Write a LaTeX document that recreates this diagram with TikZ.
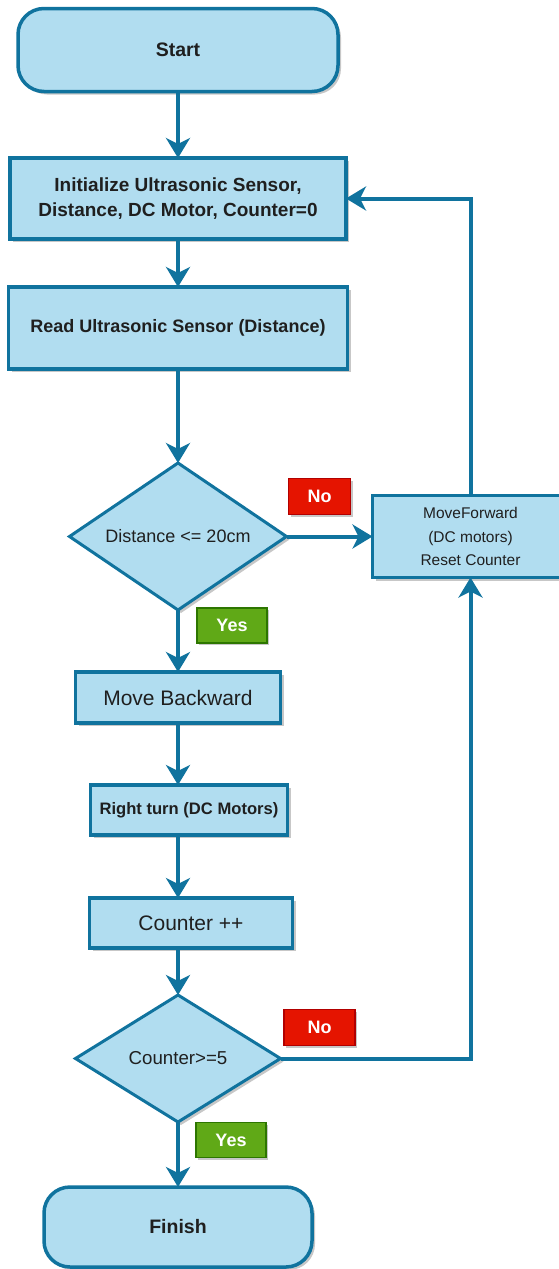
\documentclass[tikz,border=0pt]{standalone}
\usepackage{fontspec}
\setmainfont{Liberation Sans}
\usepackage{xcolor}
\definecolor{flowfill}{HTML}{B1DDF0}
\definecolor{flowline}{HTML}{10739E}
\definecolor{flowtext}{HTML}{1F1F1F}
\definecolor{nored}{HTML}{E51400}
\definecolor{noredline}{HTML}{B20000}
\definecolor{yesgreen}{HTML}{60A917}
\definecolor{yesgreenline}{HTML}{2D7600}
\usepackage{tikz}
\usetikzlibrary{
  arrows.meta,
  positioning,
  shapes.geometric,
  shadows
}
\tikzset{
  procbox/.style={draw=flowline, fill=flowfill, line width=3.5pt,
    align=center, text=flowtext, inner sep=0pt, outer sep=0pt,
    drop shadow={shadow xshift=3pt, shadow yshift=-3pt,
      fill=black, opacity=0.22}},
  termbox/.style={procbox, rounded corners=26pt},
  decbox/.style={procbox, diamond, line width=3pt},
  nolbl/.style={draw=noredline, fill=nored, text=white, line width=1.5pt,
    minimum width=62pt, minimum height=36pt, inner sep=0pt,
    font=\fontsize{18}{20}\selectfont\bfseries,
    drop shadow={shadow xshift=2pt, shadow yshift=-2pt,
      fill=black, opacity=0.22}},
  yeslbl/.style={nolbl, draw=yesgreenline, fill=yesgreen,
    minimum width=70pt, minimum height=35pt},
  arr/.style={-{Stealth[length=20pt, width=24pt, inset=6pt]},
    line width=4pt, draw=flowline},
}

\begin{document}
\begin{tikzpicture}[
  node distance=60pt
]
  \useasboundingbox (0,0) rectangle (558pt,-1269pt);

  % Start
  \node[termbox, minimum width=320pt, minimum height=83pt,
        font=\fontsize{19.5}{23}\selectfont\bfseries]
    (start) at (178pt,-50pt) {Start};
  % Init
  \node[procbox, minimum width=336pt, minimum height=81pt,
        font=\fontsize{19}{25}\selectfont\bfseries, below=66.5pt of start]
    (init) {Initialize Ultrasonic Sensor,\\Distance, DC Motor, Counter=0};
  % Read sensor
  \node[procbox, minimum width=339pt, minimum height=82pt,
        font=\fontsize{18}{22}\selectfont\bfseries, below=48pt of init]
    (read) {Read Ultrasonic Sensor (Distance)};
  % Distance check
  \node[decbox, shape aspect=1.48, minimum width=217pt, minimum height=147pt,
        font=\fontsize{18}{22}\selectfont, below=94pt of read]
    (dist) {Distance <= 20cm};
  % Move forward
  \node[procbox, minimum width=196pt, minimum height=82pt,
        font=\fontsize{15.5}{23.5}\selectfont, right=86pt of dist]
    (fwd) {MoveForward\\(DC motors)\\Reset Counter};
  % Move backward
  \node[procbox, minimum width=205pt, minimum height=51pt,
        font=\fontsize{21}{24}\selectfont, below=62pt of dist]
    (back) {Move Backward};
  % Right turn
  \node[procbox, minimum width=197pt, minimum height=50pt,
        font=\fontsize{16.6}{20}\selectfont\bfseries,
        below=62pt of back, xshift=11pt]
    (turn) {Right turn (DC Motors)};
  % Counter
  \node[procbox, minimum width=203pt, minimum height=50pt,
        font=\fontsize{21}{24}\selectfont, below=63pt of turn, xshift=2pt]
    (count) {Counter ++};
  % Counter check
  \node[decbox, shape aspect=1.61, minimum width=205pt, minimum height=127pt,
        font=\fontsize{18.7}{22}\selectfont, below=47pt of count, xshift=-13pt]
    (cnt) {Counter>=5};
  % Finish
  \node[termbox, minimum width=268pt, minimum height=80pt,
        font=\fontsize{19.5}{23}\selectfont\bfseries, below=65pt of cnt]
    (finish) {Finish};

  % Branch labels
  \node[nolbl] (no1) at ([xshift=33pt, yshift=40pt]dist.east) {No};
  \node[yeslbl] (yes1) at ([xshift=54pt, yshift=-15.5pt]dist.south) {Yes};
  \node[nolbl, minimum width=71pt] (no2) at ([xshift=39pt, yshift=31pt]cnt.east) {No};
  \node[yeslbl] (yes2) at ([xshift=53pt, yshift=-18pt]cnt.south) {Yes};

  % Arrows
  \foreach \a/\b in {start/init, init/read, read/dist, dist/back, cnt/finish} {
    \draw[arr] (\a.south) -- (\b.north);
  }
  \draw[arr] (back.south) -- (back.south |- turn.north);
  \draw[arr] (back.south |- turn.south) -- (back.south |- count.north);
  \draw[arr] (cnt.north |- count.south) -- (cnt.north);
  \draw[arr] (dist.east) -- (fwd.west);
  \draw[arr] (cnt.east) -| (fwd.south);
  \draw[arr] (fwd.north) |- (init.east);
\end{tikzpicture}
\end{document}
